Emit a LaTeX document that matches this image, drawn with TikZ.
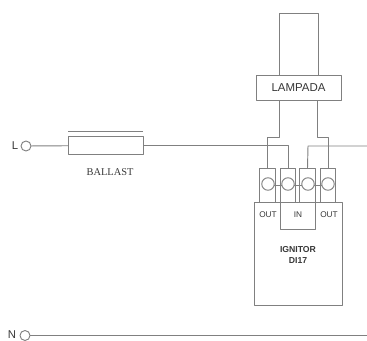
\documentclass[tikz,border=0pt]{standalone}
\usepackage{fontspec}
\setmainfont{Liberation Serif}
\setsansfont{Liberation Sans}
\definecolor{wirecol}{gray}{0.5}
\definecolor{ink}{gray}{0.22}
\tikzset{
  box/.style={draw=wirecol,fill=white,inner sep=0pt,outer sep=0pt},
  lbl/.style={text=ink,inner sep=0pt,font=\sffamily\fontsize{6.2}{7}\selectfont},
  pin/.style={draw=wirecol,fill=white,circle,inner sep=0pt,outer sep=0pt,minimum size=10*.75pt},
  wire/.style={draw=wirecol},
}
\begin{document}
\begin{tikzpicture}[x=0.75pt,y=-0.75pt,line join=round,line width=0.7pt]
 \useasboundingbox (0,0) rectangle (367,340);
 % ends of the lines
 \coordinate (lEnd) at (367,146);
 \coordinate (rEnd) at (308,146);
 \coordinate (nEnd) at (367,335.5);
 \coordinate (barW) at (68,131);
 \coordinate (barE) at (143,131);
 % lamp
 \node[box,minimum width=39*.75pt,minimum height=62*.75pt] (tube) at (298.5,44) {};
 \node[box,minimum width=85*.75pt,minimum height=25*.75pt,text=ink,font=\sffamily\fontsize{8.6}{10}\selectfont] (lampada) at (298.5,87.5) {LAMPADA};
 % ignitor body
 \node[box,minimum width=88*.75pt,minimum height=103*.75pt] (ignitor) at (298,253.5) {};
 \node[box,minimum width=35*.75pt,minimum height=27*.75pt] (inbox) at (297.5,215.5) {};
 \node[lbl] (outA) at (268,214.5) {OUT};
 \node[lbl] (inlbl) at (298,214.5) {IN};
 \node[lbl] (outB) at (329,214.5) {OUT};
 \node[lbl,align=center,font=\sffamily\bfseries\fontsize{6.5}{8.2}\selectfont] (ignlbl) at (298,254.5) {IGNITOR\\DI17};
 % terminals
 \foreach \n/\x in{1/267.5,2/288,3/307.5,4/328}{
  \node[box,minimum width=15.5*.75pt,minimum height=34*.75pt] (t\n) at (\x,185) {};
 }
 \draw[wire] (t1.center)--(t4.center);
 \foreach \n/\x in{1/268,2/288,3/308,4/328}
  \node[box,circle,minimum size=12.5*.75pt] (c\n) at (\x,184) {};
 % line and ballast
 \node[pin] (pinL) at (26,146) {};
 \node[text=ink,inner sep=0pt,font=\sffamily\fontsize{8.5}{10}\selectfont] (labL) at (15,146) {L};
 \node[pin] (pinN) at (25,335.5) {};
 \node[text=ink,inner sep=0pt,font=\sffamily\fontsize{8.5}{10}\selectfont] (labN) at (12,334.5) {N};
 \node[box,minimum width=75*.75pt,minimum height=18*.75pt] (ballast) at (105.5,145.5) {};
 \node[text=ink,inner sep=0pt,font=\fontsize{7.8}{9}\selectfont] (ballastlbl) at (110,172) {BALLAST};
 \draw[wire] (barW)--(barE);
 \draw[wire] (pinL)--(ballast);
 \draw[wire] (ballast.east)--(ballast.east-|t2.north)--(t2.north);
 \draw[wire] (lEnd)--(rEnd)--(t3.north);
 \draw[wire] (pinN)--(nEnd);
 % lamp to terminals
 \draw[wire] ([xshift=-19*.75pt]lampada.south)--++(0,37)-|(t1.north);
 \draw[wire] ([xshift=19*.75pt]lampada.south)--++(0,37)-|(t4.north);
\end{tikzpicture}
\end{document}
